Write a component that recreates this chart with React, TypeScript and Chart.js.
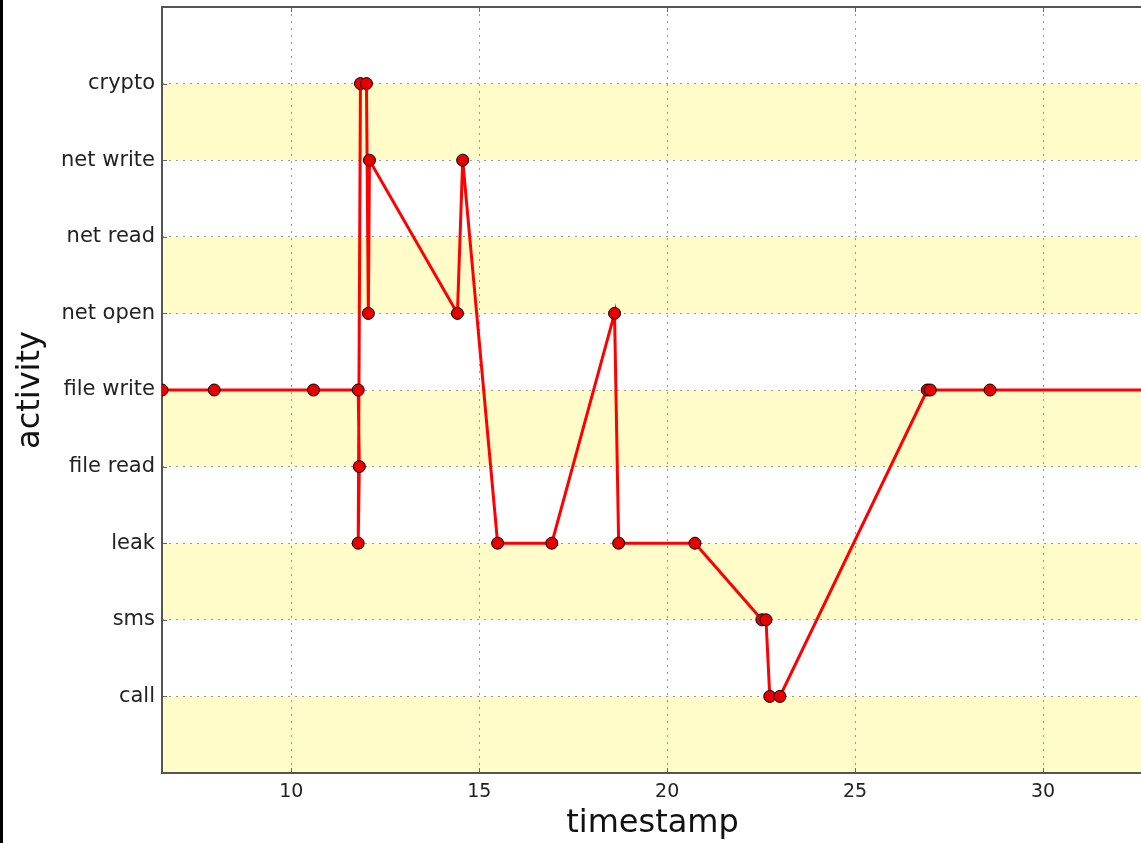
import React, { useEffect, useRef } from "react";
import { Chart, registerables } from "chart.js";

Chart.register(...registerables);

const categories = [
  "call",
  "sms",
  "leak",
  "file read",
  "file write",
  "net open",
  "net read",
  "net write",
  "crypto",
];

const timestamps = [
  6.56, 7.95, 10.59, 11.78, 11.81, 11.78, 11.84, 12.0, 12.05, 12.08, 14.42,
  14.56, 15.49, 16.93, 18.6, 18.71, 20.74, 22.52, 22.63, 22.73, 23.0, 26.92,
  27.0, 28.59, 34.0,
];

const activities = [
  "file write", "file write", "file write", "file write", "file read", "leak",
  "crypto", "crypto", "net open", "net write", "net open", "net write", "leak",
  "leak", "net open", "leak", "leak", "sms", "sms", "call", "call",
  "file write", "file write", "file write", "file write",
];

const xTicks = [10, 15, 20, 25, 30];
const xRange = [6.56, 32.66];
const yRange = [-1, 9];
// bands shaded yellow: each spans [start, start + 1] in category index units
const bandStarts = [-1, 1, 3, 5, 7];

const FONT = "DejaVu Sans";

export default function App() {
  const ref = useRef<HTMLCanvasElement | null>(null);

  useEffect(() => {
    const canvas = ref.current;
    if (!canvas) return;

    const bandsPlugin = {
      id: "bands",
      beforeDraw(chart: any) {
        const { ctx, chartArea, scales } = chart;
        const ys = scales.y;
        ctx.save();
        ctx.fillStyle = "#fffcc9";
        bandStarts.forEach((b) => {
          const y1 = ys.getPixelForValue(b);
          const y2 = ys.getPixelForValue(b + 1);
          ctx.fillRect(chartArea.left, y2, chartArea.right - chartArea.left, y1 - y2);
        });
        ctx.restore();
      },
      beforeDatasetsDraw(chart: any) {
        const { ctx, chartArea, scales } = chart;
        const { left, right, top, bottom } = chartArea;
        ctx.save();
        // small inward tick marks
        ctx.strokeStyle = "#666";
        ctx.lineWidth = 1;
        ctx.beginPath();
        scales.y.ticks.forEach((t: any) => {
          const y = Math.round(scales.y.getPixelForValue(t.value)) + 0.5;
          ctx.moveTo(left, y);
          ctx.lineTo(left + 5, y);
        });
        scales.x.ticks.forEach((t: any) => {
          const x = Math.round(scales.x.getPixelForValue(t.value)) + 0.5;
          ctx.moveTo(x, bottom);
          ctx.lineTo(x, bottom - 5);
          ctx.moveTo(x, top);
          ctx.lineTo(x, top + 5);
        });
        ctx.stroke();
        // frame
        ctx.strokeStyle = "#555";
        ctx.lineWidth = 2;
        ctx.strokeRect(left, top, right - left, bottom - top);
        ctx.restore();
      },
    };

    const zeroPad = (scale: any) => {
      scale.paddingTop = 0;
      scale.paddingBottom = 0;
      scale.paddingLeft = 0;
      scale.paddingRight = 0;
    };

    const data = timestamps.map((t, i) => ({
      x: t,
      y: categories.indexOf(activities[i]),
    }));

    const chart = new Chart(canvas, {
      type: "line",
      data: {
        datasets: [
          {
            data,
            borderColor: "#ff0000",
            borderWidth: 3,
            pointRadius: 6,
            pointHoverRadius: 6,
            pointBackgroundColor: "#e60000",
            pointBorderColor: "#000",
            pointBorderWidth: 1,
            tension: 0,
          },
        ],
      },
      options: {
        animation: false,
        responsive: false,
        maintainAspectRatio: false,
        layout: { padding: { top: 5, left: 0, right: 0, bottom: 0 } },
        plugins: {
          legend: { display: false },
          tooltip: { enabled: false },
        },
        scales: {
          x: {
            type: "linear",
            min: xRange[0],
            max: xRange[1],
            afterBuildTicks: (scale: any) => {
              scale.ticks = xTicks.map((v) => ({ value: v }));
            },
            afterFit: (scale: any) => {
              scale.height = 70;
              zeroPad(scale);
            },
            grid: {
              color: "#999",
              lineWidth: 1,
              drawTicks: false,
            },
            border: { display: false, dash: [2, 5] },
            ticks: {
              padding: 8,
              color: "#222",
              font: { family: FONT, size: 19 },
              callback: (v: any) => String(v),
            },
            title: {
              display: true,
              text: "timestamp",
              color: "#111",
              font: { family: FONT, size: 32 },
              padding: { top: 0, bottom: 0 },
            },
          },
          y: {
            type: "linear",
            min: yRange[0],
            max: yRange[1],
            afterBuildTicks: (scale: any) => {
              scale.ticks = categories.map((_, i) => ({ value: i }));
            },
            afterFit: (scale: any) => {
              scale.width = 162;
              zeroPad(scale);
            },
            grid: {
              color: "#999",
              lineWidth: 1,
              drawTicks: false,
            },
            border: { display: false, dash: [2, 5] },
            ticks: {
              padding: 7,
              color: "#222",
              font: { family: FONT, size: 21 },
              callback: (v: any) => categories[v as number] ?? "",
            },
            title: {
              display: true,
              text: "activity",
              color: "#111",
              font: { family: FONT, size: 32 },
              padding: { top: 11, bottom: 0 },
            },
          },
        },
      },
      plugins: [bandsPlugin],
    });

    return () => chart.destroy();
  }, []);

  return (
    <div
      style={{
        position: "fixed",
        left: 0,
        top: 0,
        width: 1141,
        height: 843,
        overflow: "hidden",
        background: "#fff",
      }}
    >
      <canvas
        ref={ref}
        width={1150}
        height={843}
        style={{ position: "absolute", left: 0, top: 0, width: 1150, height: 843 }}
      />
      <div
        style={{
          position: "absolute",
          left: 0,
          top: 0,
          width: 3,
          height: 843,
          background: "#000",
        }}
      />
    </div>
  );
}
